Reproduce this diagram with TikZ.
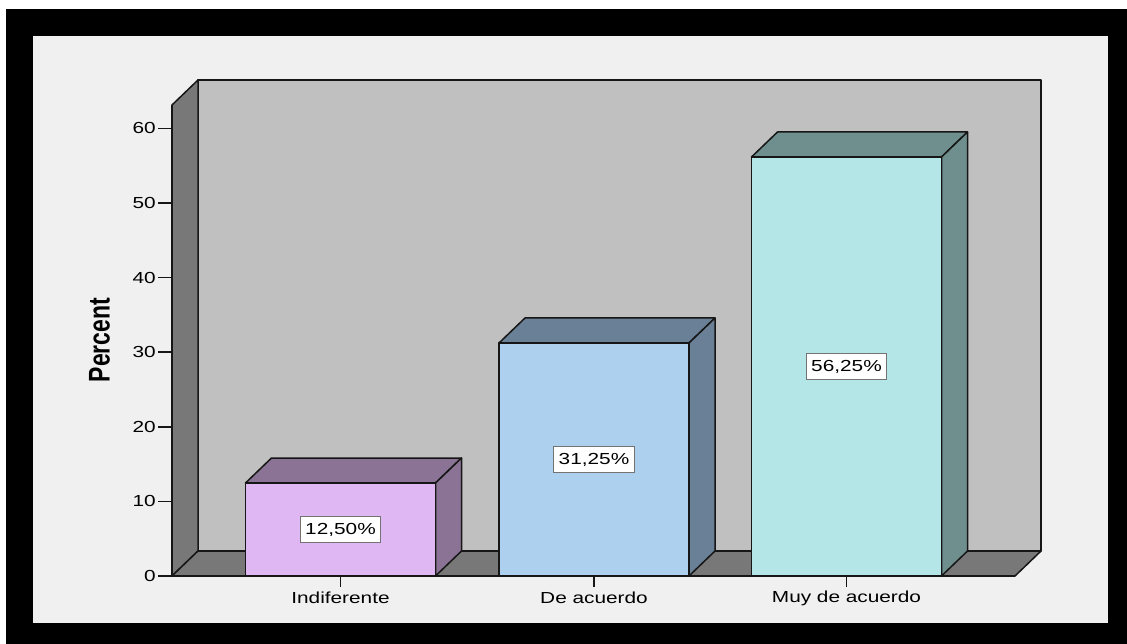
\documentclass[tikz,border=0pt]{standalone}
\usepackage{fontspec}
\setmainfont{Liberation Sans}
\newfontfamily\wide[FakeStretch=1.3]{Liberation Sans}
\definecolor{bgc}{HTML}{F0F0F0}
\definecolor{wallc}{HTML}{C0C0C0}
\definecolor{sidec}{HTML}{787878}
\definecolor{aF}{HTML}{DFB8F3}
\definecolor{aS}{HTML}{8A7394}
\definecolor{bF}{HTML}{ACD0EE}
\definecolor{bS}{HTML}{6A8096}
\definecolor{cF}{HTML}{B4E6E8}
\definecolor{cS}{HTML}{6F8E8E}
\definecolor{edge}{HTML}{161616}
\tikzset{
  outl/.style={draw=edge, line width=1.5pt, line join=round},
  ticklab/.style={font=\wide\fontsize{16}{18}\selectfont, anchor=east, inner sep=0pt, text=black},
  catlab/.style={font=\wide\fontsize{16}{18}\selectfont, inner sep=0pt, text=black},
  vallab/.style={font=\wide\fontsize{16}{18}\selectfont, text=black, fill=white, draw=black!55, line width=1.1pt, inner xsep=5pt, inner ysep=6pt},
}
\newcommand{\mybar}[5]{% cx, ytop, front, side, name
  \pgfmathsetmacro{\xa}{#1-95}\pgfmathsetmacro{\xb}{#1+95}
  \filldraw[outl, fill=#4] (\xa,#2) -- (\xa+26,#2-25) -- (\xb+26,#2-25) -- (\xb,#2) -- cycle;
  \filldraw[outl, fill=#4] (\xb,#2) -- (\xb+26,#2-25) -- (\xb+26,551) -- (\xb,576) -- cycle;
  \filldraw[outl, fill=#3] (\xa,#2) rectangle (\xb,576);
  \coordinate (#5) at (#1,{(#2+576)/2});
}
\begin{document}
\begin{tikzpicture}[x=1pt,y=-1pt]
\useasboundingbox (0,0) rectangle (1127,644);
\fill[white] (0,0) rectangle (1127,644);
\fill[black] (6,9) rectangle (1127,644);
\fill[bgc] (33,36) rectangle (1108,623);
% walls
\filldraw[outl, fill=wallc] (198,80) rectangle (1041,551);
\filldraw[outl, fill=sidec] (172,105) -- (198,80) -- (198,551) -- (172,576) -- cycle;
\filldraw[outl, fill=sidec] (172,576) -- (198,551) -- (1041,551) -- (1015,576) -- cycle;
% bars
\mybar{340.5}{483}{aF}{aS}{b1}
\mybar{594}{343}{bF}{bS}{b2}
\mybar{846.5}{157}{cF}{cS}{b3}
% axis
\draw[outl] (158,576) -- (1015,576);
\draw[outl] (172,105) -- (172,576);
\foreach \v in {0,10,20,30,40,50,60}{
  \draw[edge, line width=1.5pt] (158,{576-7.46*\v}) -- (172,{576-7.46*\v});
  \node[ticklab] (t\v) at (156,{576-7.46*\v}) {\v};
}
% category ticks and labels
\foreach \cx/\lab/\n in {340.5/Indiferente/c1, 594/De acuerdo/c2, 846.5/Muy de acuerdo/c3}{
  \draw[edge, line width=1.5pt] (\cx,576) -- (\cx,587);
  \node[catlab] (\n) at (\cx,598) {\lab};
}
% value labels
\node[vallab] (v1) at (b1) {12,50\%};
\node[vallab] (v2) at (b2) {31,25\%};
\node[vallab] (v3) at (b3) {56,25\%};
% axis title
\node[rotate=90, inner sep=0pt] (ytitle) at (99.5,340) {\scalebox{1}[1.3]{\fontsize{23}{26}\selectfont\bfseries Percent}};
\end{tikzpicture}
\end{document}
